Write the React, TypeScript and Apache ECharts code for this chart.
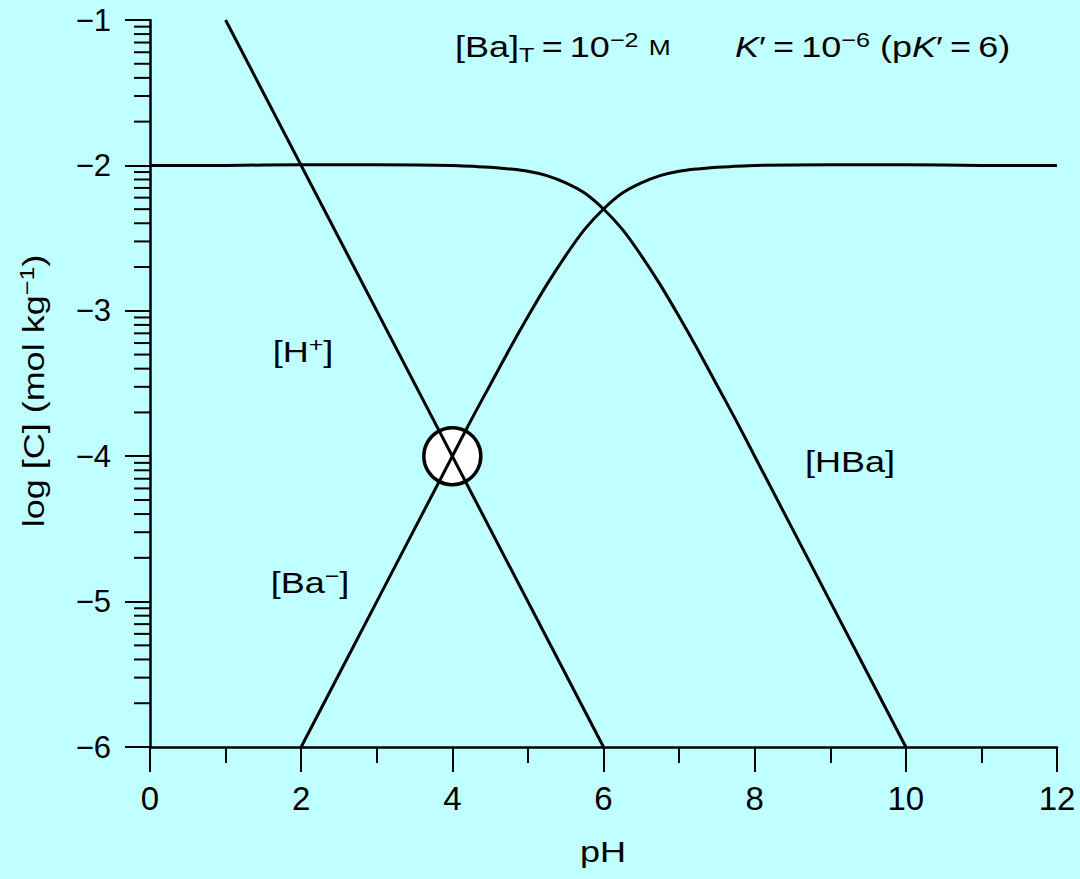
import React, { useEffect, useRef } from "react";
import * as echarts from "echarts";

// ---- data ----
const hPH = [1, 6];
const hLog = [-1, -6];

const hbaPH = [0, 1, 2, 3, 4, 4.5, 4.75, 5, 5.25, 5.5, 5.75, 6, 6.25, 6.5, 6.75, 7, 7.25, 7.5, 7.75, 8, 9, 10];
const hbaLog = [-2.0, -2.0, -1.995, -1.995, -2.0, -2.013, -2.024, -2.04, -2.07, -2.12, -2.19, -2.3, -2.44, -2.62, -2.82, -3.04, -3.27, -3.51, -3.75, -4.0, -5.0, -6.0];

const baPH = [2, 3, 4, 4.25, 4.5, 4.75, 5, 5.25, 5.5, 5.75, 6, 6.25, 6.5, 6.75, 7, 7.25, 7.5, 8, 9, 10, 11, 12];
const baLog = [-6.0, -5.0, -4.0, -3.75, -3.51, -3.27, -3.04, -2.82, -2.62, -2.44, -2.3, -2.19, -2.12, -2.07, -2.04, -2.024, -2.013, -2.0, -1.995, -1.995, -2.0, -2.0];

const circlePoint = [4, -4];

const xMin = 0, xMax = 12, xStep = 2;
const yMin = -6, yMax = -1, yStep = 1;
// log-decade minor ticks on the y axis (decade base + log10(k))
const decadeBases = [-6, -5, -4, -3, -2];
const minorMultipliers = [2, 3, 4, 5, 6, 7, 8, 9];

const FONT = "'Liberation Sans', Arial, Helvetica, sans-serif";

export default function App() {
  const ref = useRef<HTMLDivElement>(null);

  useEffect(() => {
    if (!ref.current) return;
    const chart = echarts.init(ref.current, null, { renderer: "svg" });

    const zip = (xs: number[], ys: number[]) => xs.map((x, i) => [x, ys[i]]);
    const minorTicks: number[][] = [];
    decadeBases.forEach((b) =>
      minorMultipliers.forEach((k) => minorTicks.push([0, b + Math.log10(k)]))
    );

    const lineStyle = { color: "#000", width: 3, join: "round" };
    const axisLine = { show: true, onZero: false, lineStyle: { color: "#000", width: 2.5 } };

    const main = { fontSize: 30, fontFamily: FONT, fill: "#000", lineHeight: 40 };
    const sup = { fontSize: 21, fontFamily: FONT, fill: "#000", lineHeight: 21, verticalAlign: "top", padding: [2, 0, 0, 0] };
    const sub = { fontSize: 21, fontFamily: FONT, fill: "#000", lineHeight: 21, verticalAlign: "bottom", padding: [0, 0, 2, 0] };
    const small = { fontSize: 22, fontFamily: FONT, fill: "#000", lineHeight: 40 };
    const ital = { ...main, fontStyle: "italic" };
    const rich = { m: main, s: sup, b: sub, sm: small, i: ital };

    const txt = (x: number, y: number, text: string, align = "center", rotation = 0) => ({
      type: "text",
      x,
      y,
      rotation,
      scaleX: 1.2,
      z: 10,
      style: {
        text,
        rich,
        fontSize: 30,
        fontFamily: FONT,
        fill: "#000",
        align,
        textAlign: align,
        verticalAlign: "middle",
        textVerticalAlign: "middle",
      },
    });

    chart.setOption({
      animation: false,
      backgroundColor: "#c0ffff",
      grid: { left: 150, right: 23, top: 20, bottom: 132, containLabel: false },
      xAxis: {
        type: "value",
        min: xMin,
        max: xMax,
        interval: xStep,
        axisLine,
        axisTick: { show: true, length: 25, lineStyle: { color: "#000", width: 2 } },
        minorTick: { show: true, splitNumber: 2, length: 16, lineStyle: { color: "#000", width: 2 } },
        splitLine: { show: false },
        axisLabel: { color: "#000", fontSize: 33, fontFamily: FONT, margin: 35 },
      },
      yAxis: {
        type: "value",
        min: yMin,
        max: yMax,
        interval: yStep,
        axisLine,
        axisTick: { show: true, length: 25, lineStyle: { color: "#000", width: 2 } },
        splitLine: { show: false },
        axisLabel: {
          color: "#000",
          fontSize: 31,
          fontFamily: FONT,
          margin: 39,
          formatter: (v: number) => (v < 0 ? "\u2212" + Math.abs(v) : String(v)),
        },
      },
      series: [
        {
          type: "custom",
          coordinateSystem: "cartesian2d",
          data: minorTicks,
          clip: false,
          silent: true,
          renderItem: (_p: any, api: any) => {
            const p = api.coord([api.value(0), api.value(1)]);
            return {
              type: "line",
              shape: { x1: p[0] - 16, y1: p[1], x2: p[0], y2: p[1] },
              style: { stroke: "#000", lineWidth: 2 },
            };
          },
        },
        {
          type: "scatter",
          data: [circlePoint],
          symbol: "circle",
          symbolSize: 57,
          z: 1,
          itemStyle: { color: "#fff", borderColor: "#000", borderWidth: 3.5, opacity: 1 },
          silent: true,
        },
        {
          type: "line",
          data: zip(hPH, hLog),
          showSymbol: false,
          z: 3,
          lineStyle,
          silent: true,
        },
        {
          type: "line",
          data: zip(hbaPH, hbaLog),
          showSymbol: false,
          smooth: 0.3,
          z: 3,
          lineStyle,
          silent: true,
        },
        {
          type: "line",
          data: zip(baPH, baLog),
          showSymbol: false,
          smooth: 0.3,
          z: 3,
          lineStyle,
          silent: true,
        },
      ],
      graphic: [
        txt(303, 352, "{m|[H}{s|+}{m|]}"),
        txt(310, 583, "{m|[Ba}{s|\u2212}{m|]}"),
        txt(850, 462, "{m|[HBa]}"),
        txt(455, 47, "{m|[Ba]}{b|T}{m|\u2009=\u200910}{s|\u22122}{m| }{sm|M}", "left"),
        txt(735, 47, "{i|K}{m|\u2032\u2009=\u200910}{s|\u22126}{m| (p}{i|K}{m|\u2032\u2009=\u20096)}", "left"),
        txt(603, 852, "{m|pH}"),
        txt(34, 391, "{m|log [C] (mol kg}{s|\u22121}{m|)}", "center", Math.PI / 2),
      ],
    });

    return () => chart.dispose();
  }, []);

  return (
    <div
      ref={ref}
      style={{ position: "fixed", left: 0, top: 0, width: 1080, height: 879 }}
    />
  );
}
